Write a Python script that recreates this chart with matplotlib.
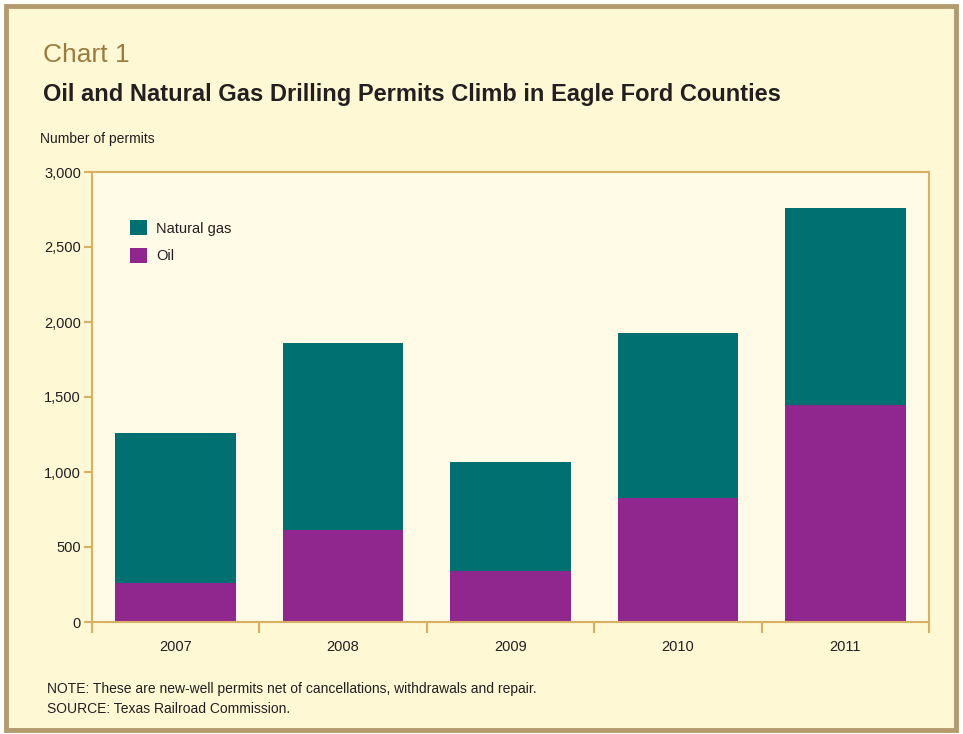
import matplotlib
matplotlib.use("Agg")
import matplotlib.pyplot as plt
from matplotlib.patches import Rectangle, Patch
import numpy as np

# Data
years = ["2007", "2008", "2009", "2010", "2011"]
oil = [260, 615, 340, 830, 1445]
natural_gas = [1000, 1245, 727, 1097, 1315]
y_ticks = [0, 500, 1000, 1500, 2000, 2500, 3000]

# Colours
teal = "#007170"
purple = "#90278e"
gold = "#d9b061"
frame = "#b39b6e"
cream = "#fef8d4"
plot_bg = "#fffbe7"
text_col = "#231f20"

plt.rcParams['font.family'] = ['Liberation Sans', 'DejaVu Sans']

fig = plt.figure(figsize=(9.63, 7.34), dpi=100)
fig.patch.set_facecolor("white")

# Outer frame
W, H = 963, 734
fig.patches.append(Rectangle((6 / W, 4 / H), 950 / W, 724 / H, transform=fig.transFigure,
                             facecolor=cream, edgecolor=frame, linewidth=3.5, zorder=-5))

ax = fig.add_axes([92 / W, (H - 622) / H, 837 / W, 450 / H])
ax.set_facecolor(plot_bg)

x = np.arange(len(years))
ax.bar(x, oil, width=0.72, color=purple, zorder=2)
ax.bar(x, natural_gas, bottom=oil, width=0.72, color=teal, zorder=2)

ax.set_xlim(-0.5, len(years) - 0.5)
ax.set_ylim(0, 3000)

# y axis
ax.set_yticks(y_ticks)
ax.set_yticklabels([f"{v:,}" for v in y_ticks], fontsize=10.5, color=text_col)
ax.tick_params(axis="y", direction="out", length=6, width=1.5, color=gold, pad=2)

# x axis: ticks on category boundaries, labels centered
ax.set_xticks(np.arange(len(years) + 1) - 0.5)
ax.set_xticklabels([])
ax.set_xticks(x, minor=True)
ax.set_xticklabels(years, minor=True, fontsize=10.5, color=text_col)
ax.tick_params(axis="x", which="major", direction="out", length=8, width=1.5, color=gold)
ax.tick_params(axis="x", which="minor", length=0, pad=13)

for s in ax.spines.values():
    s.set_color(gold)
    s.set_linewidth(1.5)

# Legend
handles = [Patch(facecolor=teal, label="Natural gas"), Patch(facecolor=purple, label="Oil")]
leg = ax.legend(handles=handles, loc="upper left", bbox_to_anchor=(0.0454, 0.893), frameon=False,
                fontsize=10.5, handlelength=1.2, handleheight=1.2, handletextpad=0.6,
                labelspacing=0.85, borderaxespad=0, borderpad=0)
for t in leg.get_texts():
    t.set_color(text_col)

# Titles and notes
fig.text(43 / W, 1 - 62 / H, "Chart 1", fontsize=19, color="#9c7b3d", va="baseline")
fig.text(43 / W, 1 - 101 / H, "Oil and Natural Gas Drilling Permits Climb in Eagle Ford Counties",
         fontsize=17, fontweight="bold", color=text_col, va="baseline")
fig.text(40 / W, 1 - 143 / H, "Number of permits", fontsize=10, color=text_col, va="baseline")
fig.text(47 / W, 1 - 693 / H, "NOTE: These are new-well permits net of cancellations, withdrawals and repair.",
         fontsize=10, color=text_col, va="baseline")
fig.text(47 / W, 1 - 713 / H, "SOURCE: Texas Railroad Commission.", fontsize=10, color=text_col, va="baseline")

fig.savefig("out.png", dpi=100, facecolor=fig.get_facecolor())
